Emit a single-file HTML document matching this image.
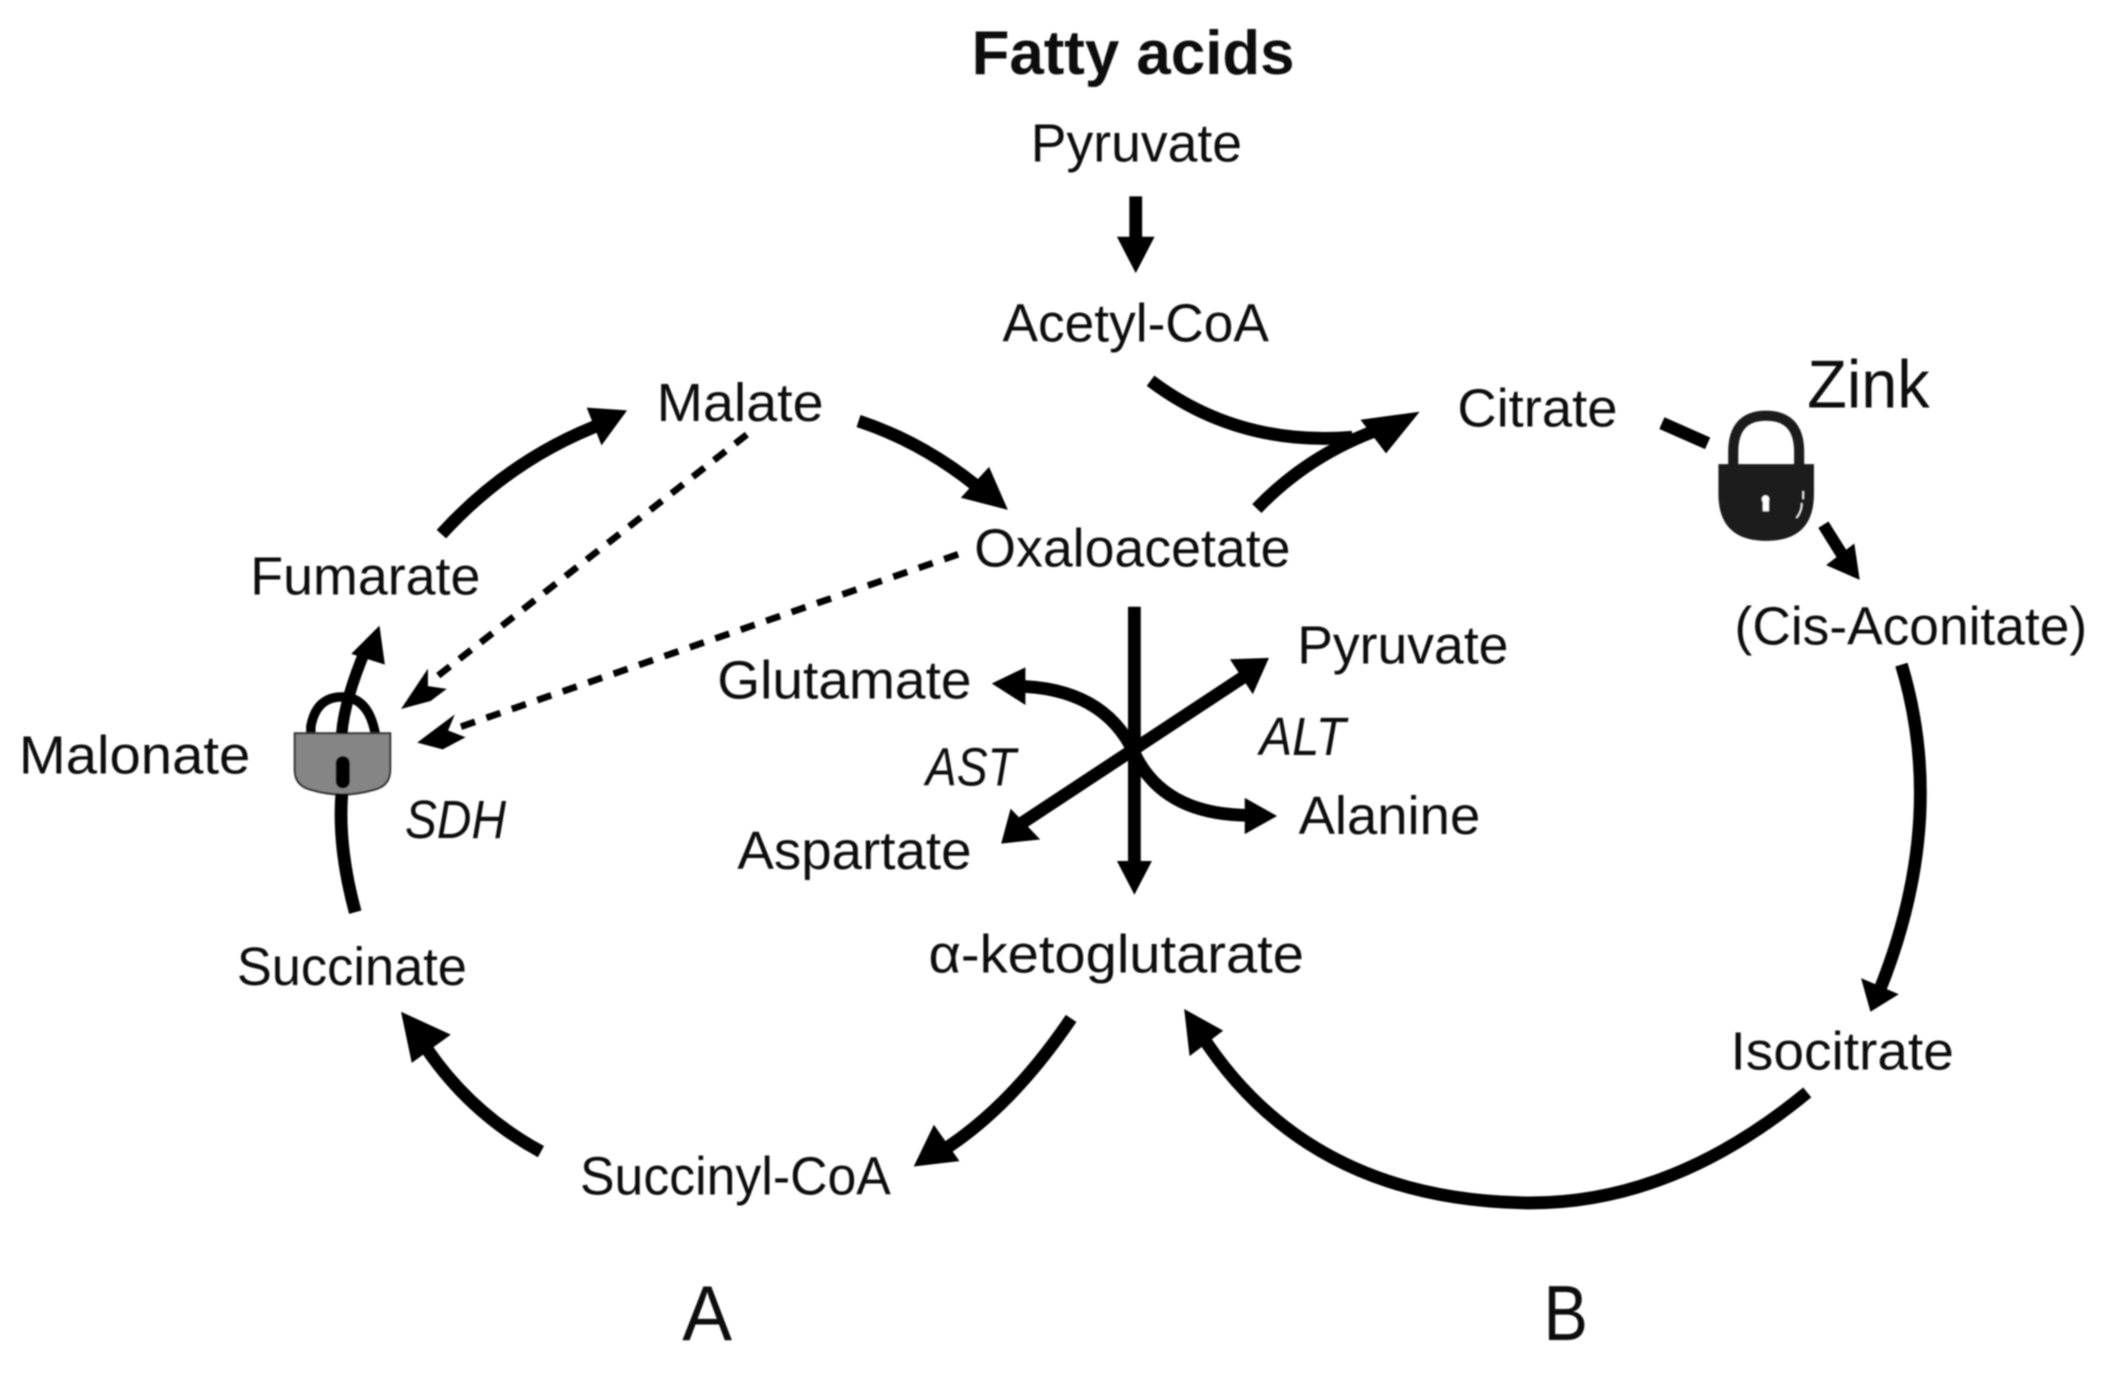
<!DOCTYPE html>
<html><head><meta charset="utf-8"><style>
html,body{margin:0;padding:0;background:#fff;width:2110px;height:1375px;overflow:hidden}
svg{display:block}
text{font-family:"Liberation Sans",sans-serif;font-size:40px;fill:#111}
.l{fill:none;stroke:#000;stroke-width:9.500}
.i{font-style:italic}
</style></head><body>
<svg width="2110" height="1375" viewBox="0 0 1568 1022" preserveAspectRatio="none" xmlns="http://www.w3.org/2000/svg">
<defs><filter id="b" x="-2%" y="-2%" width="104%" height="104%"><feGaussianBlur stdDeviation="0.600"/></filter></defs>
<rect width="1568" height="1022" fill="#fff"/>
<g filter="url(#b)">
<!-- top -->
<path class="l" d="M844 146V182"/><polygon points="830,176 858,176 844,203"/>
<path class="l" d="M855 283Q920 332 1005 325"/>
<path class="l" d="M934 378Q975 335 1034 316"/><polygon points="1055,306 1011,312 1030,337"/>
<!-- left cycle -->
<path class="l" d="M638 313Q690 330 735 369"/><polygon points="749,379 714,370 735,347"/>
<path class="l" d="M328 397Q380 340 450 314"/><polygon points="466,305 436,303 447,331"/>
<path class="l" d="M796 757Q750 825 696 858"/><polygon points="679,867 694,836 713,863"/>
<path class="l" d="M402 856Q345 825 311 770"/><polygon points="298,752 335,769 306,790"/>
<!-- dashed -->
<path d="M555 323L322 505" fill="none" stroke="#000" stroke-width="5" stroke-dasharray="11 9"/>
<polygon points="298,527 318,497 318,510 332,512 320,521"/>
<path d="M712 412L340 541" fill="none" stroke="#000" stroke-width="5" stroke-dasharray="11 9"/>
<polygon points="310,552 338,531 333,543 346,548 329,557"/>
<!-- grey lock -->
<path d="M231 546V540Q235 518 254 518Q274 518 279 546" fill="none" stroke="#000" stroke-width="7"/>
<path d="M219 545H290V572Q290 584 278 587Q254 594 231 587Q219 584 219 572Z" fill="#858585" stroke="#333" stroke-width="1.500"/>
<path d="M264 678Q251 630 254 590" fill="none" stroke="#000" stroke-width="9.500"/>
<path d="M254 545Q256 520 272 482" fill="none" stroke="#000" stroke-width="8.500"/>
<polygon points="282,465 261,486 286,494"/>
<rect x="249.500" y="562" width="10.500" height="24" rx="5.200"/>
<!-- black lock -->
<path d="M1288 346V336Q1288 309 1312.500 309Q1337 309 1337 336V346" fill="none" stroke="#1a1a1d" stroke-width="7.500"/>
<path d="M1277 345H1348V367Q1348 402 1312.500 402Q1277 402 1277 367Z" fill="#1a1a1d"/>
<circle cx="1312" cy="371" r="2.800" fill="#fff"/><rect x="1310" y="371" width="4.500" height="9" fill="#fff"/>
<path d="M1340 365V371M1339 374Q1339 380 1335 385" stroke="#fff" stroke-width="1" fill="none"/>
<!-- right -->
<path class="l" d="M1235 314.500L1269 329.500"/>
<path d="M1355 390L1370 414" stroke="#000" stroke-width="9" fill="none"/><polygon points="1382,431 1357,420 1378,404"/>
<path class="l" d="M1413 494Q1448 610 1396 738"/><polygon points="1390,752 1383,727 1411,739"/>
<path class="l" d="M1343 812Q1240 897 1130 894Q970 890 892 768"/><polygon points="880,750 909,766 884,785"/>
<!-- centre -->
<path class="l" d="M843 451V645"/><polygon points="830,640 856,640 843,665"/>
<path class="l" d="M756 614L932 498"/>
<polygon points="943,489 914,490 931,516"/>
<polygon points="744,627 751,601 773,624"/>
<path class="l" d="M752 510Q820 510 843 560Q865 607 932 606"/>
<polygon points="737,508 762,496 762,524"/>
<polygon points="949,606.500 925,593 925,620"/>
</g>
<!-- labels -->
<g filter="url(#b)">
<text x="722" y="55" textLength="240" lengthAdjust="spacingAndGlyphs" style="font-size:46px;font-weight:bold">Fatty acids</text>
<text x="766" y="120" textLength="157" lengthAdjust="spacingAndGlyphs">Pyruvate</text>
<text x="745" y="254" textLength="198" lengthAdjust="spacingAndGlyphs">Acetyl-CoA</text>
<text x="488" y="313" textLength="124" lengthAdjust="spacingAndGlyphs">Malate</text>
<text x="1083" y="317" textLength="119" lengthAdjust="spacingAndGlyphs">Citrate</text>
<text x="1343" y="303" textLength="91" lengthAdjust="spacingAndGlyphs" style="font-size:50px">Zink</text>
<text x="724" y="421" textLength="235" lengthAdjust="spacingAndGlyphs">Oxaloacetate</text>
<text x="186" y="442" textLength="171" lengthAdjust="spacingAndGlyphs">Fumarate</text>
<text x="1289" y="479" textLength="262" lengthAdjust="spacingAndGlyphs">(Cis-Aconitate)</text>
<text x="964" y="493" textLength="157" lengthAdjust="spacingAndGlyphs">Pyruvate</text>
<text x="533" y="519" textLength="189" lengthAdjust="spacingAndGlyphs">Glutamate</text>
<text class="i" x="936" y="561" textLength="64" lengthAdjust="spacingAndGlyphs">ALT</text>
<text class="i" x="688" y="584" textLength="67" lengthAdjust="spacingAndGlyphs">AST</text>
<text x="14" y="575" textLength="172" lengthAdjust="spacingAndGlyphs">Malonate</text>
<text class="i" x="301" y="623" textLength="75" lengthAdjust="spacingAndGlyphs">SDH</text>
<text x="965" y="620" textLength="135" lengthAdjust="spacingAndGlyphs">Alanine</text>
<text x="548" y="646" textLength="174" lengthAdjust="spacingAndGlyphs">Aspartate</text>
<text x="690" y="723" textLength="279" lengthAdjust="spacingAndGlyphs">α-ketoglutarate</text>
<text x="176" y="732" textLength="171" lengthAdjust="spacingAndGlyphs">Succinate</text>
<text x="1286" y="795" textLength="166" lengthAdjust="spacingAndGlyphs">Isocitrate</text>
<text x="431" y="888" textLength="231" lengthAdjust="spacingAndGlyphs">Succinyl-CoA</text>
<text x="507" y="996" textLength="37" lengthAdjust="spacingAndGlyphs" style="font-size:58px">A</text>
<text x="1147" y="996" textLength="33" lengthAdjust="spacingAndGlyphs" style="font-size:58px">B</text>
</g>
</svg>
</body></html>
